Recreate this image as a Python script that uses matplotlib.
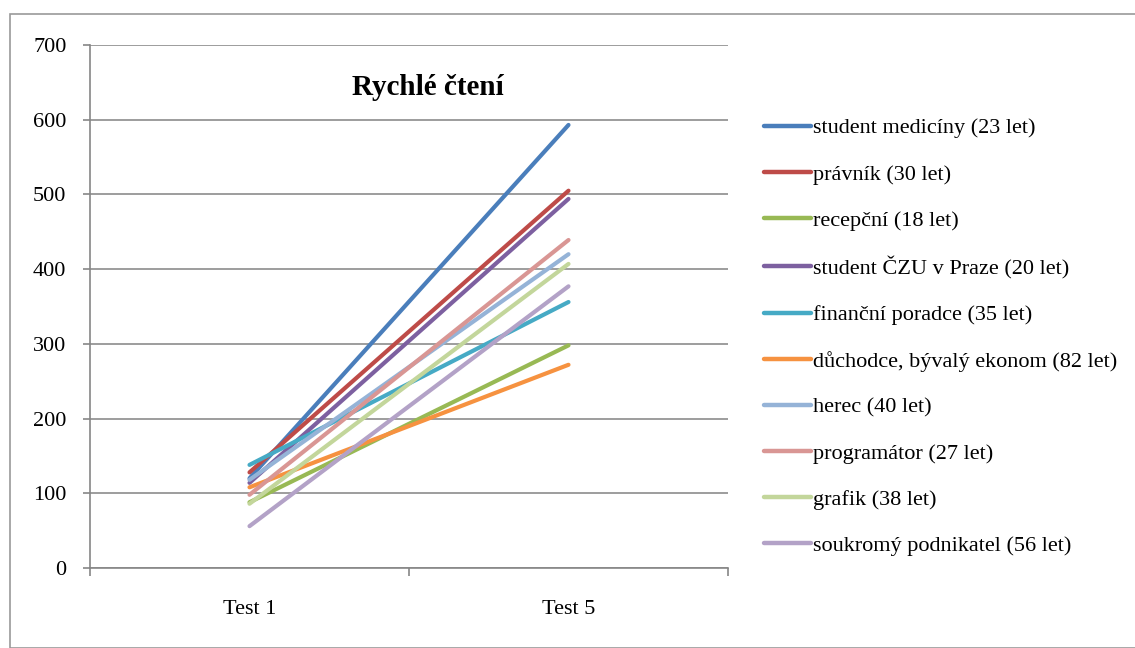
import matplotlib
matplotlib.use("Agg")
import matplotlib.pyplot as plt
from matplotlib.patches import Rectangle

categories = ["Test 1", "Test 5"]
names = [
    "student medicíny (23 let)",
    "právník (30 let)",
    "recepční (18 let)",
    "student ČZU v Praze (20 let)",
    "finanční poradce (35 let)",
    "důchodce, bývalý ekonom (82 let)",
    "herec (40 let)",
    "programátor (27 let)",
    "grafik (38 let)",
    "soukromý podnikatel (56 let)",
]
test1 = [120, 128, 88, 114, 138, 108, 118, 98, 86, 56]
test5 = [593, 505, 298, 494, 356, 272, 420, 439, 407, 377]
colors = ["#4A7EBB", "#BE4B48", "#98B954", "#7D60A0", "#46AAC5",
          "#F69240", "#95B3D7", "#D99694", "#C3D69B", "#B3A2C7"]

plt.rcParams['font.family'] = ['Liberation Serif', 'DejaVu Serif']

fig = plt.figure(figsize=(11.35, 6.48), dpi=100)
fig.patches.append(Rectangle((10/1135, 0), 1.2, 1 - 14/648, transform=fig.transFigure,
                             fill=False, edgecolor="#9a9a9a", linewidth=1.2))
ax = fig.add_axes([90/1135, 1 - 568/648, (728 - 90)/1135, (568 - 45)/648])

xs = list(range(len(categories)))
for n, a, b, c in zip(names, test1, test5, colors):
    ax.plot(xs, [a, b], color=c, linewidth=3.0, label=n, solid_capstyle="round")

ax.set_xlim(-0.5, 1.5)
ax.set_ylim(0, 700)
ax.set_yticks(range(0, 701, 100))
ax.set_xticks(xs)
ax.set_xticklabels(categories)
ax.set_xticks([-0.5, 0.5, 1.5], minor=True)
ax.tick_params(axis='x', which='major', length=0, pad=23, labelsize=16)
ax.tick_params(axis='x', which='minor', length=6, color="#868686", width=1.2)
ax.tick_params(axis='y', length=5, color="#868686", width=1.2, labelsize=16, pad=12)
ax.yaxis.grid(True, color="#8c8c8c", linewidth=1.2)
ax.set_axisbelow(True)
for s in ["top", "right"]:
    ax.spines[s].set_visible(False)
for s in ["left", "bottom"]:
    ax.spines[s].set_color("#868686")
    ax.spines[s].set_linewidth(1.2)

ax.text(0.53, 0.918, "Rychlé čtení", transform=ax.transAxes, ha="center", va="center",
        fontsize=21, fontweight="bold")

leg = fig.legend(loc="upper left", bbox_to_anchor=(755/1135, 1 - 109/648), frameon=False,
                 fontsize=16, handlelength=2.1, handletextpad=0.12, labelspacing=1.15,
                 borderaxespad=0)
for h in leg.get_lines():
    h.set_linewidth(3.2)

fig.savefig("out.png", dpi=100)
